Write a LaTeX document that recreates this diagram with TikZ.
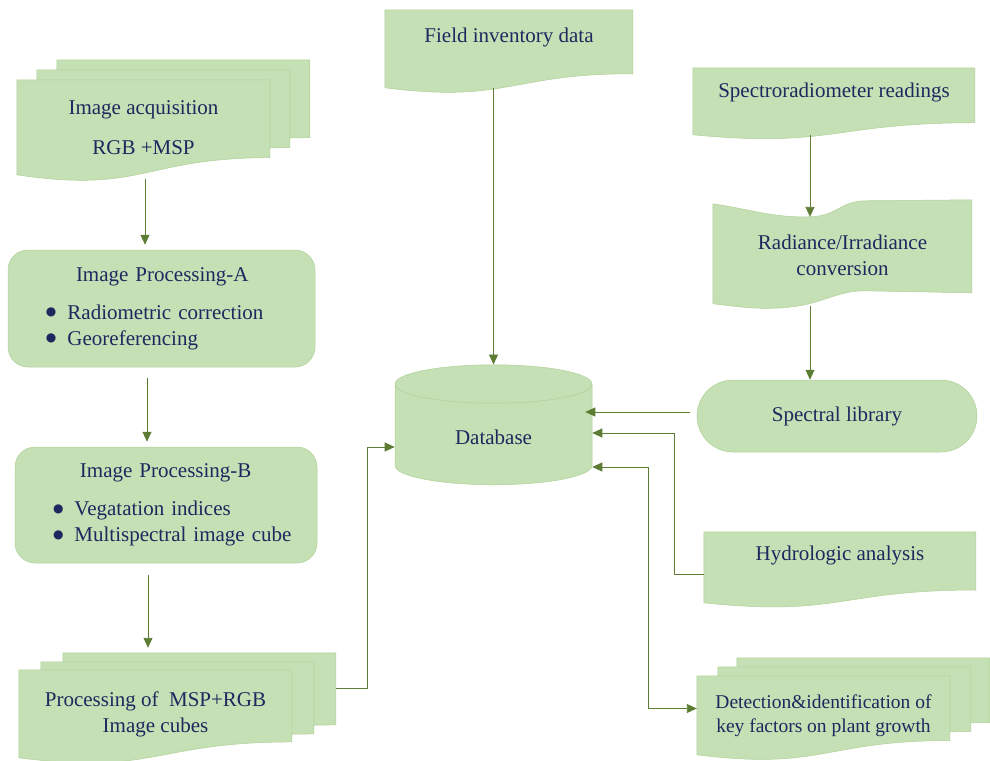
\documentclass[tikz,border=0pt]{standalone}
\usepackage{fontspec}
\setmainfont{Liberation Serif}
\newfontfamily\symfont{DejaVu Sans}
\usetikzlibrary{shapes.geometric,arrows.meta,backgrounds}

\definecolor{boxgreen}{RGB}{197,224,180}
\definecolor{boxedge}{RGB}{176,208,154}
\definecolor{textblue}{RGB}{30,40,95}
\definecolor{linegreen}{RGB}{94,125,52}

% one sheet of a document shape: x, y, width, height (wavy bottom)
\newcommand{\docsheet}[4]{%
  \path[sheet] (#1,#2) -- ({#1+#3},#2) -- ({#1+#3},{#2+0.82*#4})
    .. controls ({#1+0.5*#3},{#2+0.82*#4}) and ({#1+0.5*#3},{#2+1.2*#4}) .. (#1,{#2+#4}) -- cycle;}
% bullet line inside the processing boxes
\newcommand{\bitem}[1]{\hspace*{38pt}\raisebox{3.5pt}{\symfont\fontsize{12}{13}\selectfont ●}\hspace{11pt}#1}

\begin{document}
\begin{tikzpicture}[x=1pt,y=-1pt,font=\fontsize{21}{26}\selectfont,text=textblue,
    >={Triangle[length=10pt,width=9pt]}]
  % Define styles for nodes
  \tikzstyle{sheet} = [fill=boxgreen, draw=boxedge, line width=0.5pt]
  \tikzstyle{doc} = [rectangle, inner sep=0pt]
  \tikzstyle{procbox} = [rectangle, rounded corners=20pt, fill=boxgreen,
  draw=boxedge, line width=0.5pt, inner sep=0pt, align=left]
  \tikzstyle{flow} = [draw=linegreen, line width=0.9pt, ->]

  \useasboundingbox (0,0) rectangle (990,760);

  % Left column
  \node[doc, align=center, minimum width=253pt, minimum height=95pt] (acq)
  at (143.5,127.5) {Image acquisition\\[14pt]RGB +MSP};
  \node[procbox, minimum width=307pt, minimum height=117pt, text width=307pt]
  (ipa) at (161.5,308.5) {\hspace*{68pt}Image Processing-A\\[12pt]
    \bitem{Radiometric correction}\\ \bitem{Georeferencing}};
  \node[procbox, minimum width=302pt, minimum height=116pt, text width=302pt]
  (ipb) at (166,505) {\hspace*{65pt}Image Processing-B\\[12pt]
    \bitem{Vegatation indices}\\ \bitem{Multispectral image cube}};
  \node[doc, align=center, minimum width=273pt, minimum height=88pt] (proc)
  at (155.5,714) {Processing of\ \ MSP+RGB\\Image cubes};

  % Middle
  \node[doc, minimum width=248pt, minimum height=78pt, text depth=28pt]
  (field) at (509,49) {Field inventory data};
  \node[cylinder, shape border rotate=90, aspect=0.46, minimum width=197pt,
  minimum height=120pt, fill=boxgreen, draw=boxedge, line width=0.5pt]
  (db) at (493.5,437) {Database};

  % Right column
  \node[doc, minimum width=282pt, minimum height=67pt, text depth=23pt]
  (spectro) at (834,101.5) {Spectroradiometer readings};
  \node[doc, align=center, minimum width=259pt, minimum height=110pt]
  (rad) at (842.5,255) {Radiance/Irradiance\\conversion};
  \node[procbox, rounded corners=36pt, align=center, minimum width=280pt,
  minimum height=72pt] (lib) at (837,416) {Spectral library};
  \node[doc, minimum width=272pt, minimum height=71pt, text depth=29pt]
  (hydro) at (840,567.5) {Hydrologic analysis};
  \node[doc, align=center, minimum width=253pt, minimum height=79pt,
  font=\fontsize{19.5}{24}\selectfont] (detect) at (823.5,715.5)
  {Detection\&identification of\\key factors on plant growth};

  % Sheets behind the text
  \begin{scope}[on background layer]
    \begin{scope}[shift={(acq.north west)}]
      \docsheet{40}{-20}{253}{95}
      \docsheet{20}{-10}{253}{95}
      \docsheet{0}{0}{253}{95}
    \end{scope}
    \begin{scope}[shift={(proc.north west)}]
      \docsheet{44}{-17}{273}{88}
      \docsheet{22}{-8}{273}{88}
      \docsheet{0}{0}{273}{88}
    \end{scope}
    \begin{scope}[shift={(detect.north west)}]
      \docsheet{40}{-18}{253}{79}
      \docsheet{21}{-9}{253}{79}
      \docsheet{0}{0}{253}{79}
    \end{scope}
    \begin{scope}[shift={(field.north west)}]
      \docsheet{0}{0}{248}{78}
    \end{scope}
    \begin{scope}[shift={(spectro.north west)}]
      \docsheet{0}{0}{282}{67}
    \end{scope}
    \begin{scope}[shift={(hydro.north west)}]
      \docsheet{0}{0}{272}{71}
    \end{scope}
    % punched tape
    \path[sheet, shift={(rad.north west)}] (0,4)
      .. controls (40,10) and (60,18) .. (97,17)
      .. controls (125,16) and (125,3) .. (150,1) -- (259,0) -- (259,93)
      -- (150,91) .. controls (120,92) and (110,105) .. (70,108)
      .. controls (40,110) and (20,106) .. (0,104) -- cycle;
  \end{scope}

  % Connections, left column
  \draw[flow, shorten >=5pt] ([xshift=1.5pt,yshift=-4pt]acq.south)
  -- ([xshift=1.5pt]acq.south |- ipa.north);
  \draw[flow, shorten >=5pt] ([xshift=-14.5pt,yshift=-11pt]ipa.south)
  -- ([xshift=-14.5pt]ipa.south |- ipb.north);
  \draw[flow, shorten >=22pt] ([xshift=-18pt,yshift=-12pt]ipb.south)
  -- ([xshift=-18pt]ipb.south |- proc.north);
  \draw[flow] ([xshift=44pt,yshift=26pt]proc.east) -- ++(31,0)
  |- ([yshift=-10pt]db.west);

  % Field data
  \draw[flow] (db.north |- field.south) -- (db.north);

  % Connections, right column
  \draw[flow] ([xshift=-24pt]spectro.south)
  -- ([xshift=-32.5pt,yshift=-17pt]rad.north);
  \draw[flow] ([xshift=-32.5pt,yshift=4pt]rad.south)
  -- ([xshift=-32.5pt]rad.south |- lib.north);
  \draw[flow] ([xshift=-7pt,yshift=4pt]lib.west)
  -- ([xshift=-7pt,yshift=4pt]lib.west -| db.east);
  \draw[flow] ([yshift=-7pt]hydro.west) -- ++(-29,0) |- ([yshift=4pt]db.east);
  \draw[flow, <->] ([yshift=-30pt]db.east) -- ++(56,0)
  |- ([yshift=7pt]detect.west);
\end{tikzpicture}
\end{document}
